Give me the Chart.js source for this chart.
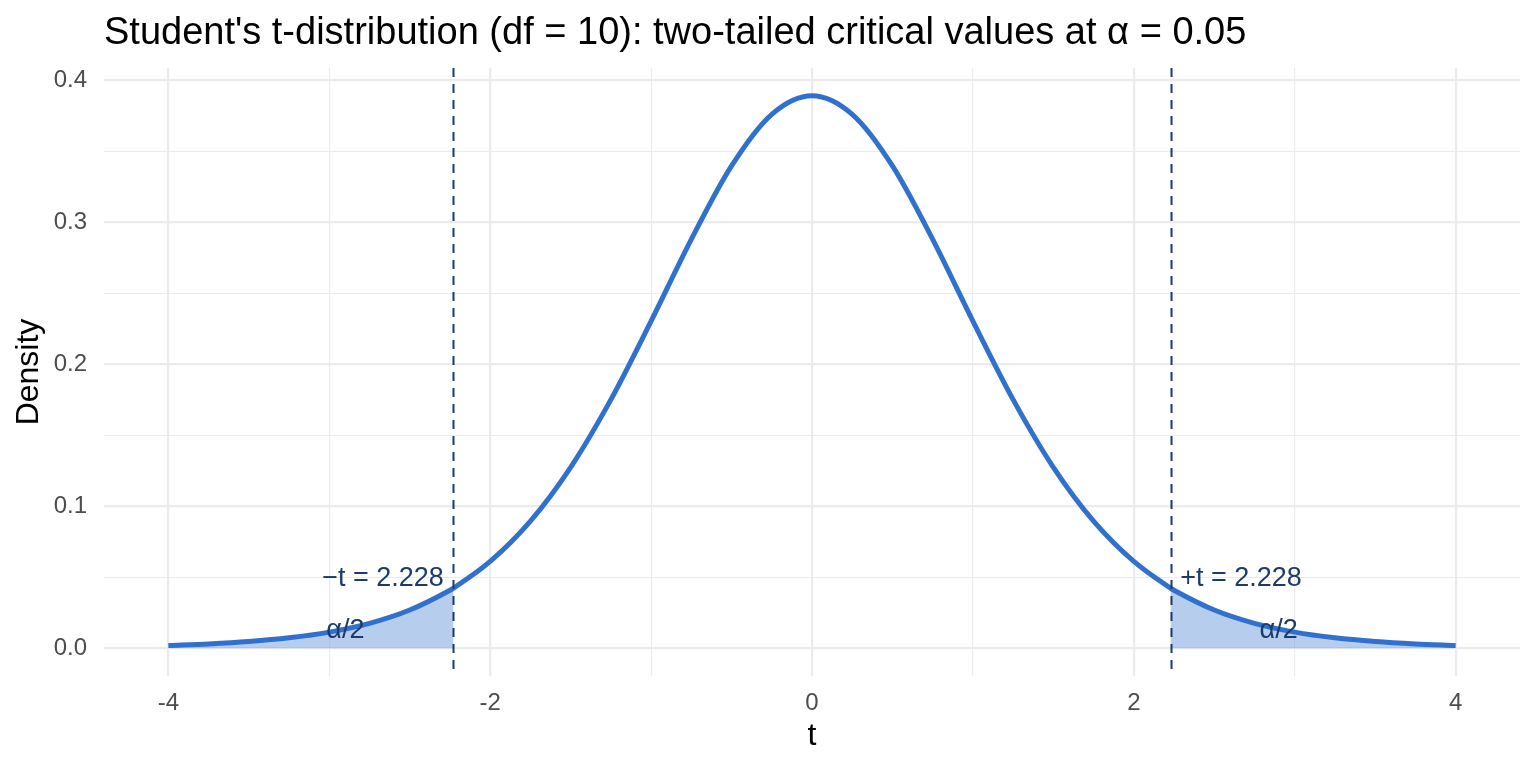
<!DOCTYPE html>
<html>
<head>
<meta charset="utf-8">
<title>Student's t-distribution</title>
<script src="https://cdn.jsdelivr.net/npm/chart.js@4.4.1/dist/chart.umd.min.js"></script>
<style>
  html, body { margin: 0; padding: 0; background: #fff; }
  canvas { display: block; }
</style>
</head>
<body>
<canvas id="tChart" width="1536" height="768"></canvas>
<script>
// ── Data ──────────────────────────────────────────────
const tValues = [-4, -3.75, -3.5, -3.25, -3, -2.75, -2.5, -2.25, -2.228, -2, -1.75, -1.5, -1.25, -1, -0.75, -0.5, -0.25,
                 0, 0.25, 0.5, 0.75, 1, 1.25, 1.5, 1.75, 2, 2.228, 2.25, 2.5, 2.75, 3, 3.25, 3.5, 3.75, 4];
const density = [0.00203, 0.00311, 0.00478, 0.00738, 0.0114, 0.01757, 0.02695, 0.0409, 0.0424, 0.06115, 0.08953, 0.12745, 0.1751, 0.23037, 0.28798, 0.3397, 0.376,
                 0.38911, 0.376, 0.3397, 0.28798, 0.23037, 0.1751, 0.12745, 0.08953, 0.06115, 0.0424, 0.0409, 0.02695, 0.01757, 0.0114, 0.00738, 0.00478, 0.00311, 0.00203];
const critT = 2.228;
const xTicks = [-4, -3, -2, -1, 0, 1, 2, 3, 4];
const xTickLabels = ['-4', '', '-2', '', '0', '', '2', '', '4'];
const yTicks = [0, 0.05, 0.1, 0.15, 0.2, 0.25, 0.3, 0.35, 0.4];
const yTickLabels = ['0.0', '', '0.1', '', '0.2', '', '0.3', '', '0.4'];
const alphaLabelT = 2.9;
const alphaLabelY = 0.0125;
const critLabelY = 0.049;

const TITLE = "Student's t-distribution (df = 10): two-tailed critical values at \u03b1 = 0.05";
const FONT = '"Liberation Sans", Arial, Helvetica, sans-serif';
const NAVY = '#1d3b6a';

const curvePts = tValues.map((t, i) => ({ x: t, y: density[i] }));
const leftTail = curvePts.filter(p => p.x <= -critT);
const rightTail = curvePts.filter(p => p.x >= critT);

// ── Annotations: title, axis titles, critical lines, labels ──
const annotate = {
    id: 'annotate',
    afterDatasetsDraw(chart) {
        const { ctx, chartArea: a, scales: { x, y } } = chart;
        ctx.save();

        // dashed critical lines
        ctx.strokeStyle = NAVY;
        ctx.lineWidth = 2;
        ctx.setLineDash([9, 7]);
        [-critT, critT].forEach(v => {
            const px = Math.round(x.getPixelForValue(v)) + 0.5;
            ctx.beginPath();
            ctx.moveTo(px, a.top);
            ctx.lineTo(px, a.bottom);
            ctx.stroke();
        });
        ctx.setLineDash([]);

        // critical value labels
        ctx.fillStyle = NAVY;
        ctx.font = '27px ' + FONT;
        ctx.textBaseline = 'middle';
        ctx.textAlign = 'right';
        ctx.fillText('\u2212t = ' + critT.toFixed(3), x.getPixelForValue(-critT - 0.06), y.getPixelForValue(critLabelY));
        ctx.textAlign = 'left';
        ctx.fillText('+t = ' + critT.toFixed(3), x.getPixelForValue(critT + 0.06), y.getPixelForValue(critLabelY));

        ctx.textAlign = 'center';
        ctx.fillText('\u03b1/2', x.getPixelForValue(-alphaLabelT), y.getPixelForValue(alphaLabelY));
        ctx.fillText('\u03b1/2', x.getPixelForValue(alphaLabelT), y.getPixelForValue(alphaLabelY));

        // main title
        ctx.fillStyle = '#000';
        ctx.font = '38px ' + FONT;
        ctx.textAlign = 'left';
        ctx.textBaseline = 'alphabetic';
        ctx.fillText(TITLE, a.left, 44);

        // axis titles
        ctx.font = '32px ' + FONT;
        ctx.textAlign = 'center';
        ctx.fillText('t', (a.left + a.right) / 2, 745);
        ctx.translate(38, (a.top + a.bottom) / 2);
        ctx.rotate(-Math.PI / 2);
        ctx.fillText('Density', 0, 0);

        ctx.restore();
    }
};

const tailFill = 'rgba(112, 156, 219, 0.5)';

new Chart(document.getElementById('tChart'), {
    type: 'line',
    data: {
        datasets: [
            { data: curvePts, borderColor: '#3071cd', borderWidth: 5, pointRadius: 0, fill: false, cubicInterpolationMode: 'monotone', order: 1 },
            { data: leftTail, borderWidth: 0, backgroundColor: tailFill, pointRadius: 0, fill: 'origin', cubicInterpolationMode: 'monotone', order: 2 },
            { data: rightTail, borderWidth: 0, backgroundColor: tailFill, pointRadius: 0, fill: 'origin', cubicInterpolationMode: 'monotone', order: 2 }
        ]
    },
    options: {
        responsive: false,
        animation: false,
        layout: { padding: { top: 68, right: 16, left: 0, bottom: 0 } },
        plugins: { legend: { display: false }, tooltip: { enabled: false }, title: { display: false } },
        scales: {
            x: {
                type: 'linear',
                min: -4.4,
                max: 4.4,
                afterBuildTicks: axis => { axis.ticks = xTicks.map(v => ({ value: v })); },
                afterFit: scale => { scale.height = 92; },
                border: { display: false },
                grid: {
                    drawTicks: false,
                    color: '#ebebeb',
                    lineWidth: c => (c.index % 2 === 0 ? 2.2 : 1.1)
                },
                ticks: {
                    padding: 13,
                    color: '#4d4d4d',
                    font: { family: FONT, size: 24 },
                    maxRotation: 0,
                    autoSkip: false,
                    callback: (v, i) => xTickLabels[i]
                }
            },
            y: {
                type: 'linear',
                min: -0.0195,
                max: 0.4086,
                afterBuildTicks: axis => { axis.ticks = yTicks.map(v => ({ value: v })); },
                afterFit: scale => { scale.width = 104; },
                border: { display: false },
                grid: {
                    drawTicks: false,
                    color: '#ebebeb',
                    lineWidth: c => (c.index % 2 === 0 ? 2.2 : 1.1)
                },
                ticks: {
                    padding: 17,
                    color: '#4d4d4d',
                    font: { family: FONT, size: 24 },
                    autoSkip: false,
                    callback: (v, i) => yTickLabels[i]
                }
            }
        }
    },
    plugins: [annotate]
});
</script>
</body>
</html>
